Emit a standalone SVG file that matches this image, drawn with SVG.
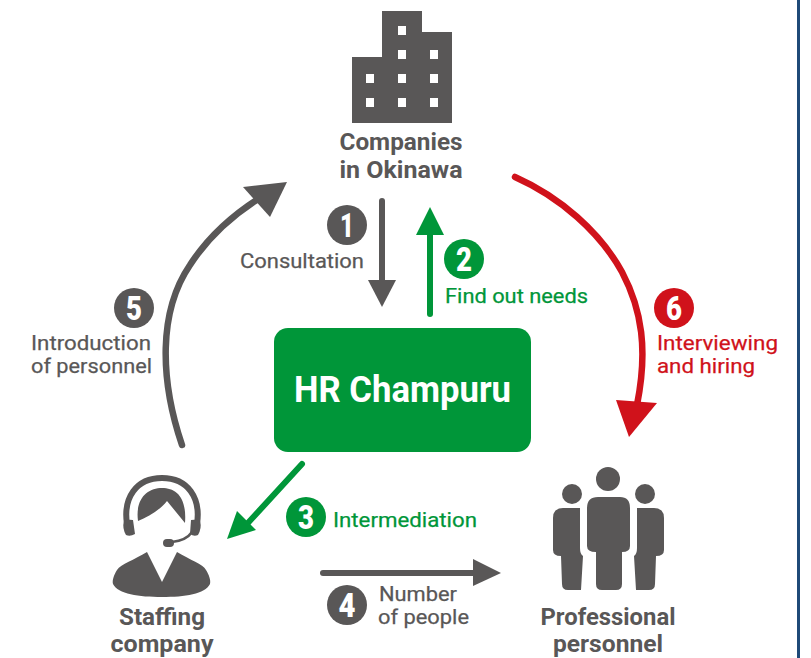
<svg xmlns="http://www.w3.org/2000/svg" width="811" height="658" viewBox="0 0 811 658">
<style>
text{font-family:Roboto,"Noto Sans","Liberation Sans",sans-serif}
.n{font-size:24px;font-weight:700;fill:#595757;text-anchor:middle}
.l{font-size:21px;fill:#595757;stroke:#595757;stroke-width:.25}
.g{font-size:21px;fill:#009639;stroke:#009639;stroke-width:.25}
.r{font-size:21px;fill:#d0121b;stroke:#d0121b;stroke-width:.25}
.d{font-size:33px;font-weight:900;fill:#fff;text-anchor:middle}
.i{fill:#595757}
.w{fill:#fff}
.c{fill:none;stroke-width:6;stroke-linecap:round}
.t{stroke-width:6.500}
.sg{stroke:#595757}
.sn{stroke:#009639}
</style>
<rect width="811" height="658" fill="#fff"/>
<rect x="797" y="0" width="3" height="658" fill="#1f4a78"/>
<g id="connectors">
<path class="c sg" d="M382 201V284"/><path class="i" d="M368 280H396L382 307Z"/>
<path class="c sn" d="M430 314V232"/><path fill="#009639" d="M416 235H444L430 207Z"/>
<path class="c sn" d="M302 464L247 524"/><path fill="#009639" d="M227 539L237 511L256 530Z"/>
<path class="c sg" d="M323 573H476"/><path class="i" d="M473 559V586L501 573Z"/>
<path class="c t sg" d="M182 445C160 380 158 312 190 265C208 237 230 217 258 199"/><path class="i" d="M287 182L243 187L270 217Z"/>
<path class="c t" stroke="#d0121b" d="M515 177C560 197 600 232 622 272C642 310 648 350 637 405"/><path fill="#d0121b" d="M629 437L616 400L657 403Z"/>
</g>
<g id="companies">
<path class="i" d="M352 123V57H382V11H422V32H452V123Z"/>
<path class="w" d="M398 26h8v9h-8zM398 50h8v9h-8zM430 50h8v9h-8zM366 74h8v9h-8zM398 74h8v9h-8zM430 74h8v9h-8zM366 98h8v9h-8zM398 98h8v9h-8zM430 98h8v9h-8z"/>
<text class="n" x="401" y="150" textLength="123" lengthAdjust="spacingAndGlyphs">Companies</text>
<text class="n" x="401" y="178" textLength="123" lengthAdjust="spacingAndGlyphs">in Okinawa</text>
</g>
<g id="hr-champuru">
<rect x="274" y="328" width="257" height="124" rx="14" fill="#009639"/>
<text x="402.500" y="402" font-size="37" font-weight="700" fill="#fff" text-anchor="middle" textLength="217" lengthAdjust="spacingAndGlyphs">HR Champuru</text>
</g>
<g id="staffing-company">
<path class="c sg" d="M127 524C123 498 136 478 162 478C188 478 201 498 197 524"/>
<path class="i" d="M124 521Q128 519 133 520L135 534Q130 537 126 535Q122 528 124 521ZM200 521Q196 519 191 520L190 534Q194 537 198 535Q202 528 200 521Z"/>
<path class="i" d="M138 521C135 498 148 488 162 488C176 488 187 497 185 523L167 501C160 510 148 517 138 521Z"/>
<path fill="none" stroke="#595757" stroke-width="2.500" d="M192 532C188 538 181 541 172 542"/>
<rect class="i" x="163" y="539" width="11" height="8" rx="4"/>
<path class="i" d="M147 552L162 582L177 552C190 560 203 564 206 570C209 575 211 580 210 584C205 594 185 597 162 597C139 597 118 594 113 584C112 580 114 575 117 570C121 564 134 560 147 552Z"/>
<text class="n" x="162" y="625" textLength="86" lengthAdjust="spacingAndGlyphs">Staffing</text>
<text class="n" x="162" y="652" textLength="103" lengthAdjust="spacingAndGlyphs">company</text>
</g>
<g id="professional-personnel">
<circle class="i" cx="608" cy="479" r="12"/><circle class="i" cx="572" cy="494" r="10"/><circle class="i" cx="645" cy="494" r="10"/>
<path class="i" d="M598 497H620Q630 497 630 508V546Q630 552 622 552V584Q622 590 616 590H602Q596 590 596 584V552Q587 552 587 546V508Q587 497 598 497Z"/>
<path class="i" d="M580 508V548Q580 554 583 556L581 590H568Q562 590 562 584L561 556Q553 556 553 550V518Q553 508 563 508Z"/>
<path class="i" d="M637 508V548Q637 554 634 556L636 590H649Q655 590 655 584L656 556Q664 556 664 550V518Q664 508 654 508Z"/>
<text class="n" x="608" y="625" textLength="135" lengthAdjust="spacingAndGlyphs">Professional</text>
<text class="n" x="608" y="652" textLength="110" lengthAdjust="spacingAndGlyphs">personnel</text>
</g>
<g id="step-1"><circle class="i" cx="347" cy="225" r="20"/><text class="d" x="347" y="237" textLength="14" lengthAdjust="spacingAndGlyphs">1</text><text class="l" x="240" y="267.500" textLength="124" lengthAdjust="spacingAndGlyphs">Consultation</text></g>
<g id="step-2"><circle cx="464" cy="259" r="20" fill="#009639"/><text class="d" x="464" y="271" textLength="16" lengthAdjust="spacingAndGlyphs">2</text><text class="g" x="445" y="302.500" textLength="143" lengthAdjust="spacingAndGlyphs">Find out needs</text></g>
<g id="step-3"><circle cx="306" cy="517" r="20" fill="#009639"/><text class="d" x="306" y="529" textLength="16" lengthAdjust="spacingAndGlyphs">3</text><text class="g" x="333" y="526.500" textLength="144" lengthAdjust="spacingAndGlyphs">Intermediation</text></g>
<g id="step-4"><circle class="i" cx="347" cy="605" r="20"/><text class="d" x="347" y="617" textLength="17" lengthAdjust="spacingAndGlyphs">4</text><text class="l" x="379" y="601" textLength="78" lengthAdjust="spacingAndGlyphs">Number</text><text class="l" x="378" y="624" textLength="91" lengthAdjust="spacingAndGlyphs">of people</text></g>
<g id="step-5"><circle class="i" cx="134" cy="308" r="20"/><text class="d" x="134" y="320" textLength="16" lengthAdjust="spacingAndGlyphs">5</text><text class="l" x="31" y="350" textLength="120" lengthAdjust="spacingAndGlyphs">Introduction</text><text class="l" x="31" y="373" textLength="121" lengthAdjust="spacingAndGlyphs">of personnel</text></g>
<g id="step-6"><circle cx="674" cy="308" r="20" fill="#d0121b"/><text class="d" x="674" y="320" textLength="16" lengthAdjust="spacingAndGlyphs">6</text><text class="r" x="657" y="350" textLength="121" lengthAdjust="spacingAndGlyphs">Interviewing</text><text class="r" x="657" y="373" textLength="98" lengthAdjust="spacingAndGlyphs">and hiring</text></g>
</svg>
